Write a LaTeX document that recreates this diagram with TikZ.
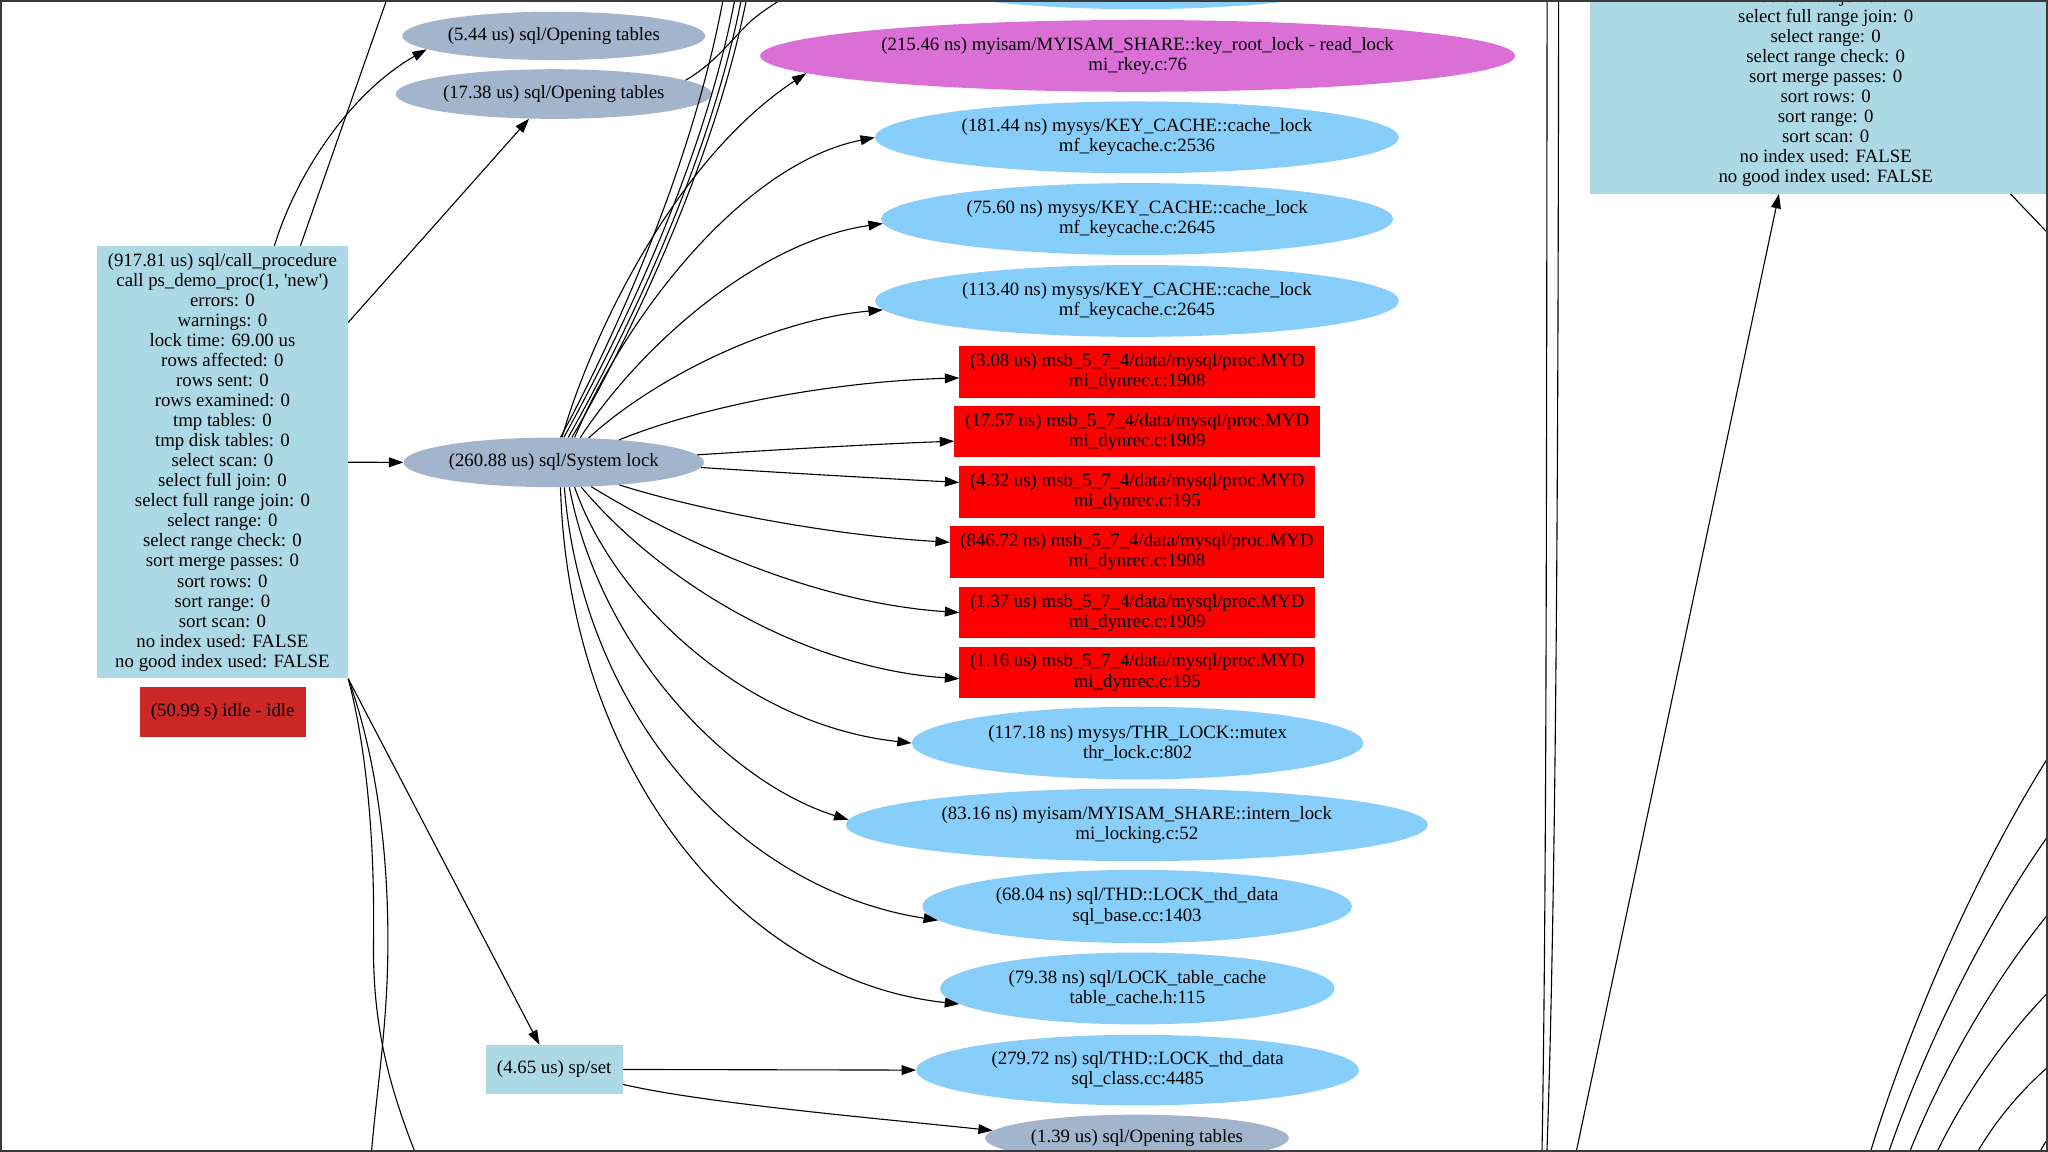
\documentclass[tikz,border=0pt]{standalone}
\usepackage{fontspec}
\newfontfamily\gvfont{Liberation Serif}
\usetikzlibrary{arrows.meta,shapes.geometric,calc}
\definecolor{steel}{HTML}{A2B5CD}
\definecolor{lblue}{HTML}{ADD8E6}
\definecolor{lsky}{HTML}{87CEFA}
\definecolor{orch}{HTML}{DA70D6}
\definecolor{brick}{HTML}{CD2626}
\definecolor{framegray}{HTML}{3B3B3B}
\begin{document}
\begin{tikzpicture}[x=1pt,y=-1pt,
  every node/.style={font=\gvfont\fontsize{14.4pt}{15.35pt}\selectfont, align=center, text=black},
  ellnode/.style={ellipse, inner xsep=-14pt, inner ysep=-4pt},
  boxnode/.style={rectangle, inner xsep=0pt, inner ysep=5pt},
  arr/.style={-{Triangle[length=11pt,width=7.5pt]}, line width=0.85pt, black},
  ln/.style={line width=0.85pt, black}]
\useasboundingbox (0,0) rectangle (1568,882);
\fill[white] (0,0) rectangle (1568,882);
\begin{scope}
\clip (0,0) rectangle (1568,882);
% ---- nodes ----
\node[ellnode, fill=steel, minimum width=232pt, minimum height=37pt] (op1) at (424,27.5) {(5.44 us) sql/Opening tables};
\node[ellnode, fill=steel, minimum width=242pt, minimum height=38pt] (op2) at (424,72) {(17.38 us) sql/Opening tables};
\node[ellnode, fill=steel, minimum width=230pt, minimum height=38pt] (sl) at (424,354) {(260.88 us) sql/System lock};
\node[boxnode, fill=lblue, minimum width=192.2pt, minimum height=331pt] (cp) at (170.3,353.9) {(917.81 us) sql/call\_procedure\\call ps\_demo\_proc(1, 'new')\\errors: 0\\warnings: 0\\lock time: 69.00 us\\rows affected: 0\\rows sent: 0\\rows examined: 0\\tmp tables: 0\\tmp disk tables: 0\\select scan: 0\\select full join: 0\\select full range join: 0\\select range: 0\\select range check: 0\\sort merge passes: 0\\sort rows: 0\\sort range: 0\\sort scan: 0\\no index used: FALSE\\no good index used: FALSE};
\node[boxnode, fill=brick, minimum width=127pt, minimum height=38.5pt] (idle) at (170.5,545.3) {(50.99 s) idle - idle};
\node[boxnode, fill=lblue, minimum width=104.6pt, minimum height=37.6pt] (sp) at (424.3,818.8) {(4.65 us) sp/set};
\node[ellnode, fill=lsky, minimum width=366pt, minimum height=54pt] (topell) at (871,-20) {};
\node[ellnode, fill=orch, minimum width=578pt, minimum height=55pt] (krl) at (871,42.8) {(215.46 ns) myisam/MYISAM\_SHARE::key\_root\_lock - read\_lock\\mi\_rkey.c:76};
\node[ellnode, fill=lsky, minimum width=401pt, minimum height=55pt] (kc1) at (870.5,105.2) {(181.44 ns) mysys/KEY\_CACHE::cache\_lock\\mf\_keycache.c:2536};
\node[ellnode, fill=lsky, minimum width=392pt, minimum height=55pt] (kc2) at (870.6,167.7) {(75.60 ns) mysys/KEY\_CACHE::cache\_lock\\mf\_keycache.c:2645};
\node[ellnode, fill=lsky, minimum width=401pt, minimum height=55pt] (kc3) at (870.5,230.4) {(113.40 ns) mysys/KEY\_CACHE::cache\_lock\\mf\_keycache.c:2645};
\node[boxnode, fill=red, minimum width=272.3pt, minimum height=39.8pt] (r1) at (870.75,284.6) {(3.08 us) msb\_5\_7\_4/data/mysql/proc.MYD\\mi\_dynrec.c:1908};
\node[boxnode, fill=red, minimum width=280pt, minimum height=39.6pt] (r2) at (870.7,330.4) {(17.57 us) msb\_5\_7\_4/data/mysql/proc.MYD\\mi\_dynrec.c:1909};
\node[boxnode, fill=red, minimum width=272.3pt, minimum height=39.8pt] (r3) at (870.75,376.5) {(4.32 us) msb\_5\_7\_4/data/mysql/proc.MYD\\mi\_dynrec.c:195};
\node[boxnode, fill=red, minimum width=286.3pt, minimum height=39.8pt] (r4) at (870.55,422.7) {(846.72 ns) msb\_5\_7\_4/data/mysql/proc.MYD\\mi\_dynrec.c:1908};
\node[boxnode, fill=red, minimum width=272.3pt, minimum height=39.6pt] (r5) at (870.75,469) {(1.37 us) msb\_5\_7\_4/data/mysql/proc.MYD\\mi\_dynrec.c:1909};
\node[boxnode, fill=red, minimum width=272.3pt, minimum height=39.6pt] (r6) at (870.75,514.9) {(1.16 us) msb\_5\_7\_4/data/mysql/proc.MYD\\mi\_dynrec.c:195};
\node[ellnode, fill=lsky, minimum width=345.6pt, minimum height=55.6pt] (tl) at (871,568.9) {(117.18 ns) mysys/THR\_LOCK::mutex\\thr\_lock.c:802};
\node[ellnode, fill=lsky, minimum width=445.6pt, minimum height=55.6pt] (il) at (870.4,631.5) {(83.16 ns) myisam/MYISAM\_SHARE::intern\_lock\\mi\_locking.c:52};
\node[ellnode, fill=lsky, minimum width=329pt, minimum height=56pt] (td1) at (870.6,694) {(68.04 ns) sql/THD::LOCK\_thd\_data\\sql\_base.cc:1403};
\node[ellnode, fill=lsky, minimum width=302pt, minimum height=55pt] (tc) at (870.8,756.8) {(79.38 ns) sql/LOCK\_table\_cache\\table\_cache.h:115};
\node[ellnode, fill=lsky, minimum width=339pt, minimum height=54pt] (td2) at (871,819.3) {(279.72 ns) sql/THD::LOCK\_thd\_data\\sql\_class.cc:4485};
\node[ellnode, fill=steel, minimum width=232.6pt, minimum height=36pt] (op3) at (870.5,871.4) {(1.39 us) sql/Opening tables};
\node[boxnode, fill=lblue, anchor=south, minimum width=360.5pt, inner ysep=5.5pt] (rb) at (1397.8,148.5) {select full join: 0\\select full range join: 0\\select range: 0\\select range check: 0\\sort merge passes: 0\\sort rows: 0\\sort range: 0\\sort scan: 0\\no index used: FALSE\\no good index used: FALSE};
% ---- free ends ----
\coordinate (t1) at (310,-40);
\coordinate (t2) at (625,-15);
\coordinate (u1) at (557,-20);
\coordinate (u2) at (566,-20);
\coordinate (u3) at (571,-20);
\coordinate (u4) at (575,-20);
\coordinate (bP) at (325,900);
\coordinate (bQ) at (283,900);
\coordinate (v1t) at (1184.5,-10);
\coordinate (v1b) at (1180.4,892);
\coordinate (v2t) at (1193.3,-10);
\coordinate (v2b) at (1184,892);
\coordinate (lb) at (1204,895);
\coordinate (rc) at (1598,210);
\coordinate (a1) at (1432,882); \coordinate (e1) at (1568,580);
\coordinate (a2) at (1446,882); \coordinate (e2) at (1568,640);
\coordinate (a3) at (1462,882); \coordinate (e3) at (1568,700);
\coordinate (a4) at (1483,882); \coordinate (e4) at (1568,760);
\coordinate (a5) at (1514,882); \coordinate (e5) at (1568,817);
\coordinate (a6) at (1562,882); \coordinate (e6) at (1568,872);
% ---- edges from call_procedure ----
\draw[arr] ($(cp.north west)!0.7066!(cp.north east)$) .. controls (228,130) and (270,70) .. (op1.186);
\draw[ln] ($(cp.north west)!0.81!(cp.north east)$) -- (t1);
\draw[arr] ($(cp.north east)!0.177!(cp.south east)$) -- (op2.225);
\draw[arr] (cp.east) -- (sl.west);
\draw[arr] (cp.south east) -- ($(sp.north west)!0.392!(sp.north east)$);
\draw[ln] (cp.south east) .. controls (280,570) and (287,640) .. (286,720) .. controls (285,790) and (300,840) .. (bP);
\draw[ln] (cp.south east) .. controls (285,570) and (297,640) .. (297,720) .. controls (297,790) and (287,840) .. (bQ);
% ---- edge from Opening tables ----
\draw[ln] (op2.6) .. controls (548,48) and (560,30) .. (575,16) .. controls (588,5) and (605,-5) .. (t2);
% ---- edges from System lock ----
\draw[ln] (sl.75) .. controls (467,265) and (535,120) .. (u1);
\draw[ln] (sl.68) .. controls (470,265) and (544,120) .. (u2);
\draw[ln] (sl.60) .. controls (473,268) and (549,118) .. (u3);
\draw[ln] (sl.54) .. controls (476,270) and (553,116) .. (u4);
\draw[arr] (sl.72) .. controls (455,250) and (520,120) .. (krl.183);
\draw[arr] (sl.50) .. controls (480,240) and (570,125) .. (kc1.west);
\draw[arr] (sl.43) .. controls (490,265) and (580,185) .. (kc2.181);
\draw[arr] (sl.35) .. controls (500,290) and (590,245) .. (kc3.182);
\draw[arr] (sl.19) .. controls (540,310) and (640,292) .. (r1.182);
\draw[arr] (sl.3) .. controls (600,344) and (670,340) .. (r2.183);
\draw[arr] (sl.358) .. controls (600,362) and (670,366) .. (r3.177);
\draw[arr] (sl.341) .. controls (540,392) and (640,410) .. (r4.177);
\draw[arr] (sl.327) .. controls (530,420) and (630,462) .. (r5.west);
\draw[arr] (sl.318) .. controls (510,450) and (620,512) .. (r6.182);
\draw[arr] (sl.310) .. controls (470,460) and (570,555) .. (tl.west);
\draw[arr] (sl.302) .. controls (460,500) and (560,600) .. (il.179);
\draw[arr] (sl.293) .. controls (445,540) and (560,680) .. (td1.184);
\draw[arr] (sl.285) .. controls (435,580) and (560,750) .. (tc.185);
% ---- edges from sp/set ----
\draw[arr] (sp.east) -- (td2.west);
\draw[arr] ($(sp.north east)!0.8!(sp.south east)$) .. controls (540,845) and (680,857) .. (op3.177);
% ---- right side ----
\draw[ln] (v1t) .. controls (1184,400) and (1184,700) .. (v1b);
\draw[ln] (v2t) .. controls (1193,400) and (1191,700) .. (v2b);
\draw[arr] (lb) -- ($(rb.south west)!0.4008!(rb.south east)$);
\draw[ln] ($(rb.south west)!0.892!(rb.south east)$) -- (rc);
\draw[ln] (a1) .. controls (1462,785) and (1511,671) .. (e1);
\draw[ln] (a2) .. controls (1472.8,804.6) and (1516.8,712.6) .. (e2);
\draw[ln] (a3) .. controls (1485.3,823.8) and (1523.5,754.6) .. (e3);
\draw[ln] (a4) .. controls (1501.7,843) and (1532.3,796.6) .. (e4);
\draw[ln] (a5) .. controls (1525.9,861.2) and (1545.3,836.5) .. (e5);
\draw[ln] (a6) .. controls (1563.3,878.8) and (1565.5,875) .. (e6);
\end{scope}
\draw[framegray, line width=1.5pt] (0.75,0.75) rectangle (1567.25,881.25);
\end{tikzpicture}
\end{document}
